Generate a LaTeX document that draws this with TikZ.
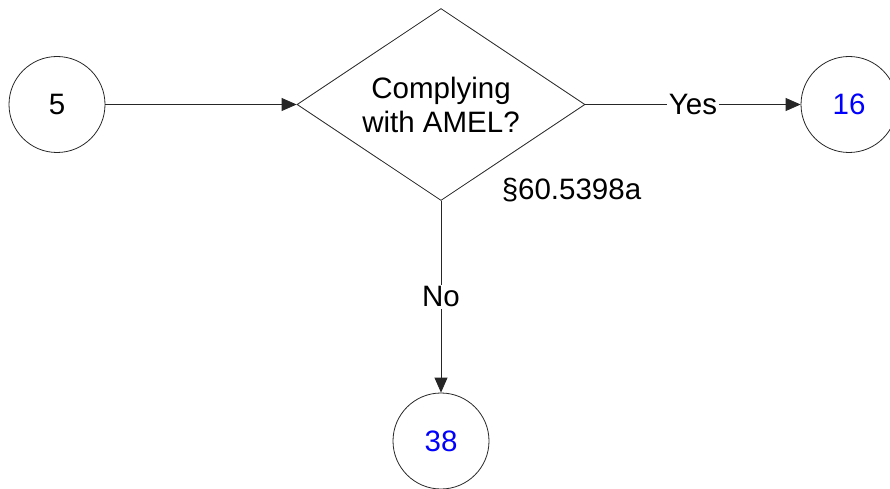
\documentclass[tikz,border=0pt]{standalone}
\usepackage{fontspec}
\setmainfont{Liberation Sans}
\usetikzlibrary{shapes.geometric,arrows.meta}
\definecolor{numblue}{RGB}{0,0,255}
\begin{document}
\begin{tikzpicture}[x=1pt,y=-1pt,
  every node/.style={font=\fontsize{29.5}{34}\selectfont},
  conn/.style={draw, line width=0.8pt, color=black!85},
  arr/.style={conn, -{Triangle[length=15pt,width=13pt]}},
  circ/.style={circle, draw, line width=0.8pt, color=black!85, text=black, minimum size=96pt, inner sep=0pt},
  bluecirc/.style={circ, text=numblue},
  decision/.style={diamond, draw, line width=0.8pt, color=black!85, text=black, aspect=1.5, minimum width=288pt, minimum height=192pt, inner sep=0pt, align=center},
  lbl/.style={fill=white, text=black, inner sep=1.5pt}
]
\useasboundingbox (0,0) rectangle (890,489);
\node[circ] (c5) at (57,104.5) {5};
\node[decision] (dec) at (441,104.5) {Complying\\with AMEL?};
\node[bluecirc] (c16) at (849,104.5) {16};
\node[bluecirc] (c38) at (441,441) {38};
\node[anchor=base, inner sep=0pt] (ref) at (571.5,199) {\S60.5398a};
\draw[arr] (c5.east) -- (dec.west);
\draw[arr] (dec.east) -- node[lbl] (yes) {Yes} (c16.west);
\draw[arr] (dec.south) -- node[lbl] (no) {No} (c38.north);
\end{tikzpicture}
\end{document}
